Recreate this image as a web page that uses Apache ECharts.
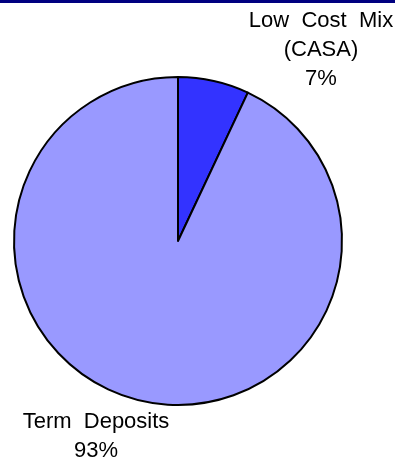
<!DOCTYPE html>
<html>
<head>
<meta charset="utf-8">
<script src="https://cdn.jsdelivr.net/npm/echarts@6/dist/echarts.min.js"></script>
<style>
  html, body { margin: 0; padding: 0; background: #fff; }
  #chart { width: 395px; height: 462px; }
</style>
</head>
<body>
<div id="chart"></div>
<script>
// Deposit mix shares (%)
const categories = ['Low  Cost  Mix\n(CASA)', 'Term  Deposits'];
const shares = [7, 93];
const sliceColors = ['#3333FF', '#9999FF'];

// label anchor points (px) for each slice
const labelAnchors = [[321, 50], [96, 436]];

const chart = echarts.init(document.getElementById('chart'), null, { renderer: 'canvas' });

chart.setOption({
  animation: false,
  backgroundColor: '#ffffff',
  graphic: [{
    type: 'rect',
    shape: { x: 0, y: 0, width: 395, height: 3 },
    style: { fill: '#000080' }
  }],
  series: [{
    type: 'pie',
    center: [178, 241],
    radius: [0, 164],
    startAngle: 90,
    clockwise: true,
    data: categories.map((name, i) => ({
      name: name,
      value: shares[i],
      itemStyle: { color: sliceColors[i] }
    })),
    itemStyle: { borderColor: '#000000', borderWidth: 2 },
    label: {
      show: true,
      position: 'inside',
      formatter: p => p.name + '\n' + p.value + '%',
      fontFamily: 'Liberation Sans, Arial, sans-serif',
      fontSize: 22,
      lineHeight: 29,
      color: '#000000',
      align: 'center',
      overflow: 'none'
    },
    labelLine: { show: false },
    labelLayout: params => ({
      x: labelAnchors[params.dataIndex][0],
      y: labelAnchors[params.dataIndex][1],
      align: 'center',
      verticalAlign: 'middle',
      hideOverlap: false
    }),
    emphasis: { disabled: true }
  }]
});
</script>
</body>
</html>
